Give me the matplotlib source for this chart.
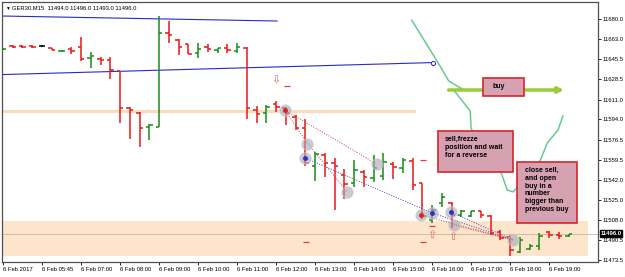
import matplotlib
matplotlib.use("Agg")
import matplotlib.pyplot as plt
import matplotlib.transforms as mtransforms
from matplotlib.patches import Rectangle, FancyArrowPatch

# GER30 M15 bars, 6 Feb 2017 (open, high, low, close)
opens = [11654, 11657, 11657, 11657, 11657, 11655, 11652.5, 11654, 11656, 11646.5,
         11645.5, 11645, 11635.5, 11603.5, 11599.5, 11587.5, 11587.5, 11668, 11662, 11658.5,
         11651, 11656, 11653.5, 11655, 11652.5, 11655, 11602, 11599.5, 11607, 11603.5,
         11596, 11586.5, 11554, 11563.5, 11556.5, 11546.5, 11539.5, 11549, 11544, 11545.5,
         11556, 11552.5, 11558.5, 11539.5, 11508, 11522.5, 11522.5, 11512, 11511, 11515.5,
         11511, 11497.5, 11493, 11480.5, 11483, 11485.5, 11497.5, 11495, 11494]
highs = [11655, 11657.5, 11657.5, 11657.5, 11658, 11655.5, 11653.5, 11656, 11664.5, 11651.5,
         11647.5, 11647.5, 11635.5, 11604.5, 11600.5, 11590, 11682.5, 11678.5, 11663, 11658.5,
         11659.5, 11658.5, 11655.5, 11658.5, 11659.5, 11656, 11605.5, 11606.5, 11610, 11604.5,
         11598, 11594.5, 11566, 11565, 11561, 11551.5, 11559, 11550.5, 11563.5, 11565,
         11557.5, 11561, 11561, 11539.5, 11520.5, 11531, 11523, 11516.5, 11515.5, 11515.5,
         11512, 11499, 11495, 11493, 11487, 11496.5, 11498.5, 11497.5, 11496]
lows = [11653.5, 11655.5, 11655.5, 11655.5, 11656, 11653.5, 11652, 11650, 11644, 11638,
        11640.5, 11628.5, 11591, 11577, 11570.5, 11576.5, 11587.5, 11659.5, 11649, 11650,
        11646.5, 11651.5, 11651, 11651, 11651, 11594.5, 11591, 11591, 11600.5, 11589,
        11585, 11554, 11541, 11544.5, 11516.5, 11526, 11536, 11536, 11540.5, 11542,
        11543, 11548, 11533.5, 11508.5, 11505, 11519, 11501, 11510.5, 11510.5, 11509.5,
        11495, 11490.5, 11477, 11479.5, 11482, 11482, 11492.5, 11491.5, 11493]
closes = [11654.5, 11656, 11656, 11656, 11657, 11653.5, 11653, 11653, 11645.5, 11648.5,
          11645, 11636.5, 11603.5, 11602, 11586.5, 11589, 11668, 11666.5, 11656, 11650,
          11654.5, 11654.5, 11655, 11653.5, 11656, 11603.5, 11598.5, 11604.5, 11604.5, 11599.5,
          11586.5, 11556.5, 11564.5, 11556.5, 11554, 11538.5, 11550.5, 11544.5, 11552.5, 11557.5,
          11553, 11559, 11538, 11511, 11516.5, 11527.5, 11512, 11515.5, 11515.5, 11512,
          11496.5, 11492.5, 11482, 11490.5, 11485.5, 11494, 11495, 11494, 11496]

tick_bars = [0, 4, 8, 12, 16, 20, 24, 28, 32, 36, 40, 44, 48, 52, 56]
tick_labels = ["6 Feb 2017", "6 Feb 05:45", "6 Feb 07:00", "6 Feb 08:00", "6 Feb 09:00",
               "6 Feb 10:00", "6 Feb 11:00", "6 Feb 12:00", "6 Feb 13:00", "6 Feb 14:00",
               "6 Feb 15:00", "6 Feb 16:00", "6 Feb 17:00", "6 Feb 18:00", "6 Feb 19:00"]
price_ticks = [11680.0, 11663.0, 11645.5, 11628.5, 11611.0, 11594.0, 11576.5,
               11559.5, 11542.0, 11525.0, 11508.0, 11490.5, 11473.5]

GREEN = "#188a18"
RED = "#e81818"
BLUE = "#2b2bbf"
small = "Liberation Sans"

fig = plt.figure(figsize=(6.25, 2.77), dpi=100)
ax = fig.add_axes([2 / 625, 1 - 262 / 277, 596 / 625, 260 / 277])
ax.set_xlim(-0.1, 61.0)
ax.set_ylim(11471.8, 11694.6)

# zones
ax.add_patch(Rectangle((-0.1, 11477), 60.1, 30, facecolor="#fce5cb", edgecolor="none", zorder=0))
ax.add_patch(Rectangle((-0.1, 11599.2), 42.4, 2.8, facecolor="#fbdcb8", edgecolor="none", zorder=0))
ax.axhline(closes[-1], color="#c8b4a4", lw=0.6, zorder=0.5)

# channel lines
ax.plot([-0.1, 28.1], [11682.6, 11678.3], color=BLUE, lw=0.8, zorder=1)
ax.plot([-0.1, 44.1], [11632.4, 11642.7], color=BLUE, lw=0.8, zorder=1)
ax.plot([44.1], [11642.7], "o", ms=3, mfc="white", mec=BLUE, mew=0.7, zorder=2)

# hand drawn green curve
cx = [41.9, 44.5, 45.7, 47.1, 46.2, 47.9, 48.0, 50.5, 51.7, 52.3, 53.7, 55.1, 55.8, 56.9, 57.4]
cy = [11679.1, 11644.0, 11626.9, 11620.0, 11619.2, 11601.2, 11585.8, 11561.8, 11533.5,
      11531.8, 11544.6, 11559.2, 11573.8, 11584.9, 11596.9]
ax.plot(cx, cy, color="#d2f0dc", lw=1.6, zorder=1)
ax.plot(cx, cy, color="#4cbf7c", lw=0.7, zorder=1.1)

# OHLC bars
x = list(range(len(opens)))
colors = [GREEN if c > o else RED if c < o else "black" for o, c in zip(opens, closes)]
ax.vlines(x, lows, highs, colors=colors, lw=1.1, zorder=3)
ax.hlines(opens, [i - 0.35 for i in x], x, colors=colors, lw=1.1, zorder=3)
ax.hlines(closes, x, [i + 0.35 for i in x], colors=colors, lw=1.1, zorder=3)

# trade history lines
dot = (0, (1, 1.6))
ax.plot([28.9, 38.3], [11602.0, 11555.8], color="#d04848", lw=0.7, ls=dot, zorder=2)
ax.plot([28.9, 31.2, 35.3], [11602.0, 11573.8, 11531.8], color="#d04848", lw=0.7, ls=dot, zorder=2)
ax.plot([31.0, 44.0, 52.3], [11560.9, 11513.8, 11490.7], color="#4040c0", lw=0.7, ls=dot, zorder=2)
ax.plot([45.9, 52.3], [11514.6, 11490.7], color="#4040c0", lw=0.7, ls=dot, zorder=2)
ax.plot([42.9, 52.3], [11512.1, 11490.7], color="#d04848", lw=0.7, ls=dot, zorder=2)
ax.plot([46.2, 52.3], [11503.5, 11490.7], color="#d04848", lw=0.7, ls=dot, zorder=2)

ox = [28.9, 31.2, 31.0, 35.3, 38.3, 42.9, 44.0, 45.9, 46.2, 52.3]
oy = [11602.0, 11573.0, 11560.9, 11531.8, 11555.8, 11512.1, 11513.8, 11514.6, 11503.5, 11490.7]
ax.plot(ox, oy, "o", ms=8, mfc="#a8a8b4", mec="#c4c4cc", alpha=0.6, zorder=4)
ax.plot([31.0, 44.0, 45.9], [11560.9, 11513.8, 11514.6], "o", ms=2.5, color="#3030c0", zorder=5)
ax.plot([28.9, 42.9], [11602.0, 11512.1], "o", ms=2.5, color="#e02020", zorder=5)

# small markers
ax.text(28.0, 11627.7, "\u21e9", fontsize=8, color="#e07060", ha="center", va="center",
        family="DejaVu Sans", zorder=4)
for ax_x, ax_y in [(44.0, 11494.9), (46.1, 11493.2)]:
    ax.text(ax_x, ax_y, "\u21e7", fontsize=8, color="#e07060", ha="center", va="center",
            family="DejaVu Sans", zorder=4)
ax.plot([29.1, 31.1, 43.1, 44.0, 43.1], [11622.6, 11488.9, 11488.9, 11502.6, 11559.2],
        "_", ms=4, mew=0.9, color="#d84040", zorder=4)

# buy arrow
ax.add_patch(FancyArrowPatch((45.4, 11619.2), (57.8, 11619.2), arrowstyle="-|>",
                             mutation_scale=8, color="#9ccb3a", lw=2.5, zorder=5))

# note boxes
def note(x0, x1, y0, y1, lines, tx, ty):
    ax.add_patch(Rectangle((x0, y0), x1 - x0, y1 - y0, facecolor="#d6a2b2",
                           edgecolor="#d8242c", lw=1.2, zorder=6))
    ax.text(tx, ty, "\n".join(lines), fontsize=5, fontweight="bold", family="Liberation Sans",
            va="top", ha="left", linespacing=1.15, zorder=7)

note(49.2, 53.4, 11614.0, 11629.4, ["buy"], 50.2, 11625.0)
note(44.6, 52.3, 11548.9, 11584.0, ["sell,frezze", "position and wait", "for a reverse"],
     45.3, 11579.5)
note(52.7, 58.8, 11505.2, 11557.5,
     ["close sell,", "and open", "buy in a", "number", "bigger than", "previous buy"],
     53.5, 11553.0)

# axes styling
for s in ax.spines.values():
    s.set_color("#505050")
    s.set_linewidth(0.9)
ax.yaxis.tick_right()
ax.set_yticks(price_ticks)
ax.set_yticklabels([f"{p:.1f}" for p in price_ticks], family=small, fontsize=4.2)
ax.set_xticks(tick_bars)
ax.set_xticklabels(tick_labels, family=small, fontsize=4.2, ha="left")
ax.tick_params(axis="both", length=2, width=0.6, pad=1.5, colors="black")

# last price tag
tr = mtransforms.blended_transform_factory(ax.transAxes, ax.transData)
ax.text(1.004, closes[-1], f"{closes[-1]:.1f}", transform=tr, fontsize=4.2, family=small,
        color="white", fontweight="bold", ha="left", va="center", zorder=8,
        bbox=dict(boxstyle="square,pad=0.15", facecolor="black", edgecolor="black"))

fig.text(5 / 625, 1 - 8 / 277, "\u25bc", fontsize=3.5, family=[small, "DejaVu Sans"], va="center")
fig.text(12 / 625, 1 - 8 / 277,
         f"GER30,M15  {opens[-1]:.1f} {highs[-1]:.1f} {lows[-1]:.1f} {closes[-1]:.1f}",
         fontsize=4.2, family=small, va="center")

fig.savefig("out.png", dpi=100)
